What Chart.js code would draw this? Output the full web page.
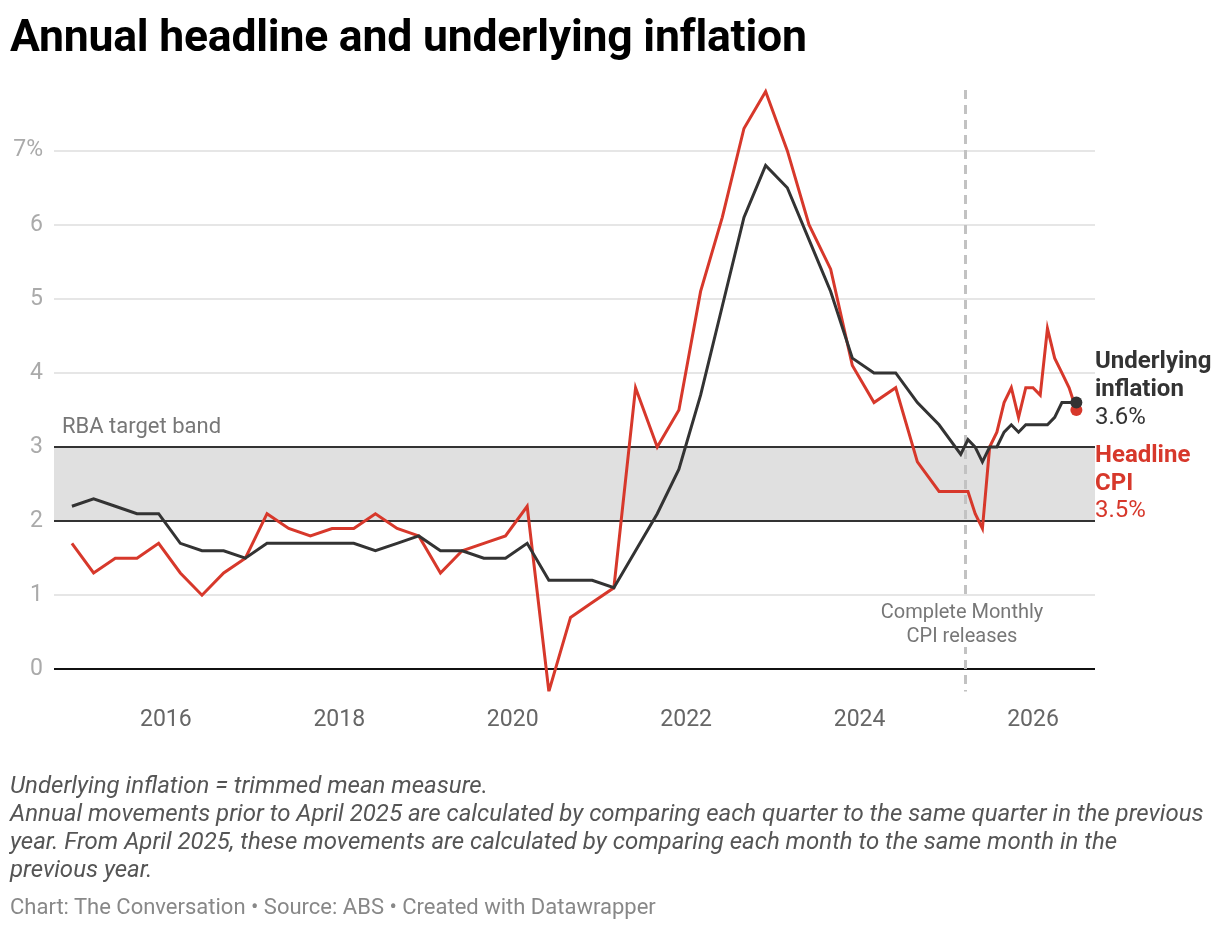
<!DOCTYPE html>
<html>
<head>
<meta charset="utf-8">
<title>Annual headline and underlying inflation</title>
<script src="https://cdn.jsdelivr.net/npm/chart.js@4.4.1/dist/chart.umd.min.js"></script>
<style>
  body { margin: 0; background: #fff; font-family: Roboto, "Noto Sans", sans-serif; }
  #page { position: relative; width: 1220px; height: 930px; overflow: hidden; }
  #chart { position: absolute; left: 0; top: 0; }
  h1 { position: absolute; left: 10px; top: 9px; margin: 0; font-size: 44.5px; line-height: 54px;
       font-weight: 700; color: #000; letter-spacing: -0.2px; white-space: nowrap; }
  .note { position: absolute; font-size: 20px; line-height: 28px; white-space: nowrap; }
  .band-label { left: 62px; top: 412px; color: #777; font-size: 22px; }
  .divider-label { left: 862px; top: 599px; width: 200px; text-align: center; color: #777;
                   font-size: 20px; line-height: 24px; }
  .divider-label span { background: #fff; }
  .end-label { left: 1095px; font-size: 24px; line-height: 28px; }
  .end-label b { font-weight: 700; }
  #lbl-under { top: 346px; color: #333; }
  #lbl-head { top: 441px; color: #d7382b; line-height: 27.5px; }
  #notes { position: absolute; left: 10px; top: 771px; font-size: 24px; line-height: 28px;
           font-style: italic; color: #555; white-space: nowrap; }
  #source { position: absolute; left: 10px; top: 893px; font-size: 22px; line-height: 28px;
            color: #888; white-space: nowrap; }
</style>
</head>
<body>
<div id="page">
  <canvas id="chart" width="1220" height="930"></canvas>
  <h1>Annual headline and underlying inflation</h1>
  <div class="note band-label">RBA target band</div>
  <div class="note divider-label"><span>Complete Monthly</span><br><span>CPI releases</span></div>
  <div class="note end-label" id="lbl-under"></div>
  <div class="note end-label" id="lbl-head"></div>
  <div id="notes">
    Underlying inflation = trimmed mean measure.<br>
    Annual movements prior to April 2025 are calculated by comparing each quarter to the same quarter in the previous<br>
    year. From April 2025, these movements are calculated by comparing each month to the same month in the<br>
    previous year.
  </div>
  <div id="source">Chart: The Conversation • Source: ABS • Created with Datawrapper</div>
</div>
<script>
// quarterly to March 2025, monthly from April 2025
var dates = [
  "2014-12",
  "2015-03", "2015-06", "2015-09", "2015-12",
  "2016-03", "2016-06", "2016-09", "2016-12",
  "2017-03", "2017-06", "2017-09", "2017-12",
  "2018-03", "2018-06", "2018-09", "2018-12",
  "2019-03", "2019-06", "2019-09", "2019-12",
  "2020-03", "2020-06", "2020-09", "2020-12",
  "2021-03", "2021-06", "2021-09", "2021-12",
  "2022-03", "2022-06", "2022-09", "2022-12",
  "2023-03", "2023-06", "2023-09", "2023-12",
  "2024-03", "2024-06", "2024-09", "2024-12",
  "2025-03",
  "2025-04", "2025-05", "2025-06", "2025-07", "2025-08", "2025-09",
  "2025-10", "2025-11", "2025-12", "2026-01", "2026-02", "2026-03",
  "2026-04", "2026-05", "2026-06", "2026-07"
];

var headline = [
  1.7,
  1.3, 1.5, 1.5, 1.7,
  1.3, 1.0, 1.3, 1.5,
  2.1, 1.9, 1.8, 1.9,
  1.9, 2.1, 1.9, 1.8,
  1.3, 1.6, 1.7, 1.8,
  2.2, -0.3, 0.7, 0.9,
  1.1, 3.8, 3.0, 3.5,
  5.1, 6.1, 7.3, 7.8,
  7.0, 6.0, 5.4, 4.1,
  3.6, 3.8, 2.8, 2.4,
  2.4,
  2.4, 2.1, 1.9, 3.0, 3.2, 3.6,
  3.8, 3.4, 3.8, 3.8, 3.7, 4.6,
  4.2, 4.0, 3.8, 3.5
];

var underlying = [
  2.2,
  2.3, 2.2, 2.1, 2.1,
  1.7, 1.6, 1.6, 1.5,
  1.7, 1.7, 1.7, 1.7,
  1.7, 1.6, 1.7, 1.8,
  1.6, 1.6, 1.5, 1.5,
  1.7, 1.2, 1.2, 1.2,
  1.1, 1.6, 2.1, 2.7,
  3.7, 4.9, 6.1, 6.8,
  6.5, 5.8, 5.1, 4.2,
  4.0, 4.0, 3.6, 3.3,
  2.9,
  3.1, 3.0, 2.8, 3.0, 3.0, 3.2,
  3.3, 3.2, 3.3, 3.3, 3.3, 3.3,
  3.4, 3.6, 3.6, 3.6
];

var xTicks = [2016, 2018, 2020, 2022, 2024, 2026];
var yTicks = [0, 1, 2, 3, 4, 5, 6, 7];
var targetBand = [2, 3];
var monthlyStart = "2025-04";

var RED = "#d7382b";
var DARK = "#333333";

function toYear(s) {
  var p = s.split("-");
  return +p[0] + (+p[1] - 1) / 12;
}

function points(values) {
  return values.map(function(v, i) {
    return { x: toYear(dates[i]), y: v };
  });
}

function lastOnly(ctx) {
  return ctx.dataIndex === ctx.dataset.data.length - 1 ? 6 : 0;
}

// grey band for the RBA target, drawn under the grid lines
var bandPlugin = {
  id: "band",
  beforeDraw: function(chart) {
    var a = chart.chartArea, y = chart.scales.y, ctx = chart.ctx;
    var top = y.getPixelForValue(targetBand[1]);
    var bottom = y.getPixelForValue(targetBand[0]);
    ctx.save();
    ctx.fillStyle = "#e0e0e0";
    ctx.fillRect(a.left, top, a.right - a.left, bottom - top);
    ctx.restore();
  },
  beforeDatasetsDraw: function(chart) {
    // dashed line where the complete monthly releases begin
    var a = chart.chartArea, ctx = chart.ctx;
    var x = Math.round(chart.scales.x.getPixelForValue(toYear(monthlyStart))) - 2.5;
    ctx.save();
    ctx.strokeStyle = "#c2c2c2";
    ctx.lineWidth = 3;
    ctx.setLineDash([9, 6]);
    ctx.beginPath();
    ctx.moveTo(x, a.top + 6);
    ctx.lineTo(x, a.bottom);
    ctx.stroke();
    ctx.restore();
  }
};

function gridColor(ctx) {
  var v = ctx.tick && ctx.tick.value;
  if (v === 0) return "#111";
  if (v === targetBand[0] || v === targetBand[1]) return "#333";
  return "#e6e6e6";
}

var chart = new Chart(document.getElementById("chart"), {
  type: "line",
  data: {
    datasets: [
      {
        label: "Underlying inflation",
        data: points(underlying),
        borderColor: DARK,
        backgroundColor: DARK,
        borderWidth: 3,
        pointRadius: lastOnly,
        pointBorderWidth: 0,
        pointBackgroundColor: DARK,
        tension: 0
      },
      {
        label: "Headline CPI",
        data: points(headline),
        borderColor: RED,
        backgroundColor: RED,
        borderWidth: 3,
        pointRadius: lastOnly,
        pointBorderWidth: 0,
        pointBackgroundColor: RED,
        tension: 0
      }
    ]
  },
  options: {
    responsive: false,
    animation: false,
    layout: { padding: { left: 0, right: 125, top: 84, bottom: 0 } },
    plugins: {
      legend: { display: false },
      tooltip: { enabled: false },
      title: { display: false }
    },
    scales: {
      x: {
        type: "linear",
        min: 2014.71,
        max: 2026.715,
        afterBuildTicks: function(s) {
          s.ticks = xTicks.map(function(v) { return { value: v }; });
        },
        afterFit: function(s) { s.height = 930 - 691.5; },
        grid: { display: false, drawTicks: false },
        border: { display: false },
        ticks: {
          autoSkip: false,
          maxRotation: 0,
          padding: 15,
          color: "#666",
          font: { family: "Roboto", size: 23 },
          callback: function(v) { return String(v); }
        }
      },
      y: {
        type: "linear",
        min: -0.3,
        max: 7.9,
        afterBuildTicks: function(s) {
          s.ticks = yTicks.map(function(v) { return { value: v }; });
        },
        afterFit: function(s) { s.width = 54; },
        grid: { color: gridColor, lineWidth: 2, drawTicks: false },
        border: { display: false },
        ticks: {
          padding: 11,
          color: "#aaa",
          font: { family: "Roboto", size: 23 },
          callback: function(v) { return v === 7 ? v + "%" : String(v); }
        }
      }
    }
  },
  plugins: [bandPlugin]
});

document.getElementById("lbl-under").innerHTML =
  "<b>Underlying<br>inflation</b><br>" + underlying[underlying.length - 1].toFixed(1) + "%";
document.getElementById("lbl-head").innerHTML =
  "<b>Headline<br>CPI</b><br>" + headline[headline.length - 1].toFixed(1) + "%";
</script>
</body>
</html>
